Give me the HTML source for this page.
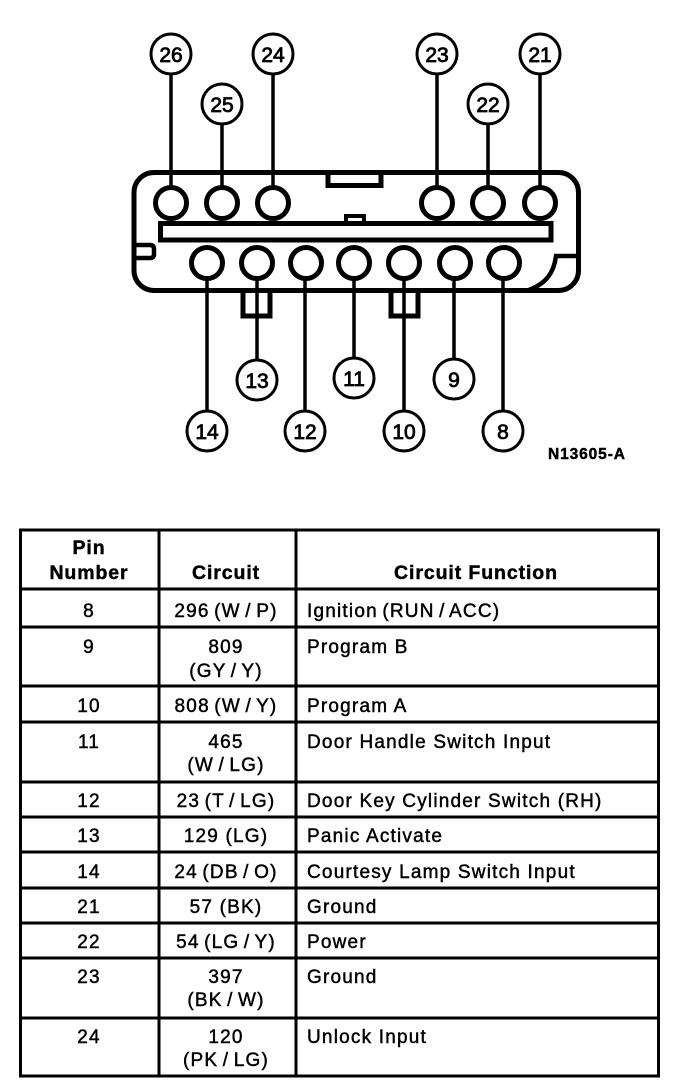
<!DOCTYPE html>
<html><head><meta charset="utf-8"><style>
html,body{margin:0;padding:0;background:#fff}
svg{display:block}
text{font-family:"Liberation Sans",sans-serif;fill:#000;stroke:#000;stroke-width:.45px}
.n{font-size:21px;text-anchor:middle;stroke-width:.8px}
.t{font-size:19px;letter-spacing:1.2px}
.s{word-spacing:-2px}
.c{text-anchor:middle}
.h{font-weight:bold;font-size:19.5px;letter-spacing:.9px}
</style></head><body>
<svg width="688" height="1088" viewBox="0 0 688 1088" xmlns="http://www.w3.org/2000/svg">
<rect width="688" height="1088" fill="#fff"/>
<g fill="none" stroke="#000" stroke-width="5">
<rect x="134" y="172.5" width="444.5" height="118" rx="20"/>
<path d="M328 172V185.5H381V172"/>
<rect x="160.5" y="223.5" width="390.5" height="16.5"/>
<path d="M346 223V216H364V223" stroke-width="4"/>
<path d="M134 245H150Q154 245 154 249V254Q154 258 150 258H134" stroke-width="4.5"/>
<path d="M579 256H556C554 272 547 284 526 291" stroke-width="4.5"/>
<path d="M243 292V316H270V292"/>
<path d="M391 292V316H418V292"/>
<g stroke-width="3.5">
<line x1="171" y1="74" x2="171" y2="187"/><line x1="222" y1="124" x2="222" y2="187"/><line x1="273" y1="74" x2="273" y2="187"/>
<line x1="437" y1="74" x2="437" y2="187"/><line x1="488" y1="124" x2="488" y2="187"/><line x1="540" y1="74" x2="540" y2="187"/>
<line x1="207" y1="279" x2="207" y2="411"/><line x1="257" y1="279" x2="257" y2="360"/><line x1="305" y1="279" x2="305" y2="411"/>
<line x1="354" y1="279" x2="354" y2="358"/><line x1="404" y1="279" x2="404" y2="411"/><line x1="454" y1="279" x2="454" y2="359"/><line x1="503" y1="279" x2="503" y2="411"/>
</g>
<g fill="#fff">
<circle cx="171" cy="203" r="15.5"/><circle cx="222" cy="203" r="15.5"/><circle cx="273" cy="203" r="15.5"/>
<circle cx="437" cy="203" r="15.5"/><circle cx="488" cy="203" r="15.5"/><circle cx="540" cy="203" r="15.5"/>
<circle cx="207" cy="263" r="15.5"/><circle cx="257" cy="263" r="15.5"/><circle cx="306" cy="263" r="15.5"/>
<circle cx="354" cy="263" r="15.5"/><circle cx="404" cy="263" r="15.5"/><circle cx="455" cy="263" r="15.5"/><circle cx="504" cy="263" r="15.5"/>
</g>
<g stroke-width="3" fill="#fff">
<circle cx="171" cy="54" r="20"/><circle cx="222" cy="104" r="20"/><circle cx="273" cy="54" r="20"/>
<circle cx="437" cy="54" r="20"/><circle cx="488" cy="104" r="20"/><circle cx="540" cy="54" r="20"/>
<circle cx="257" cy="380" r="20"/><circle cx="354" cy="378" r="20"/><circle cx="454" cy="379" r="20"/>
<circle cx="207" cy="431" r="20"/><circle cx="305" cy="431" r="20"/><circle cx="404" cy="431" r="20"/><circle cx="503" cy="431" r="20"/>
</g>
</g>
<g class="labels">
<text class="n" x="171" y="62">26</text><text class="n" x="222" y="112">25</text><text class="n" x="273" y="62">24</text>
<text class="n" x="437" y="62">23</text><text class="n" x="488" y="112">22</text><text class="n" x="540" y="62">21</text>
<text class="n" x="257" y="388">13</text><text class="n" x="354" y="386">11</text><text class="n" x="454" y="387">9</text>
<text class="n" x="207" y="439">14</text><text class="n" x="305" y="439">12</text><text class="n" x="404" y="439">10</text><text class="n" x="503" y="439">8</text>
</g>
<text x="548" y="459" style="font-size:15.5px;font-weight:bold;letter-spacing:.9px">N13605-A</text>

<g stroke="#000" fill="none">
<rect x="20.5" y="530" width="638" height="546" stroke-width="3"/>
<path d="M159 530V1076M296 530V1076" stroke-width="3"/>
<path d="M20 589H658M20 627H658M20 686H658M20 722H658M20 782H658M20 817H658M20 852H658M20 888H658M20 923H658M20 958H658M20 1018H658" stroke-width="3"/>
</g>
<text class="h c" x="89" y="554">Pin</text>
<text class="h c" x="89" y="579">Number</text>
<text class="h c" x="226" y="579">Circuit</text>
<text class="h c" x="476" y="579">Circuit Function</text>

<text class="t c" x="89" y="617">8</text><text class="t c s" x="226" y="617">296 (W / P)</text><text class="t s" x="307" y="617">Ignition (RUN / ACC)</text>
<text class="t c" x="89" y="653">9</text><text class="t c" x="226" y="653">809</text><text class="t c s" x="226" y="677">(GY / Y)</text><text class="t" x="307" y="653">Program B</text>
<text class="t c" x="89" y="712">10</text><text class="t c s" x="226" y="712">808 (W / Y)</text><text class="t" x="307" y="712">Program A</text>
<text class="t c" x="89" y="748">11</text><text class="t c" x="226" y="748">465</text><text class="t c s" x="226" y="771">(W / LG)</text><text class="t" x="307" y="748">Door Handle Switch Input</text>
<text class="t c" x="89" y="807">12</text><text class="t c s" x="226" y="807">23 (T / LG)</text><text class="t" x="307" y="807">Door Key Cylinder Switch (RH)</text>
<text class="t c" x="89" y="842">13</text><text class="t c" x="226" y="842">129 (LG)</text><text class="t" x="307" y="842">Panic Activate</text>
<text class="t c" x="89" y="878">14</text><text class="t c s" x="226" y="878">24 (DB / O)</text><text class="t" x="307" y="878">Courtesy Lamp Switch Input</text>
<text class="t c" x="89" y="913">21</text><text class="t c" x="226" y="913">57 (BK)</text><text class="t" x="307" y="913">Ground</text>
<text class="t c" x="89" y="948">22</text><text class="t c s" x="226" y="948">54 (LG / Y)</text><text class="t" x="307" y="948">Power</text>
<text class="t c" x="89" y="983">23</text><text class="t c" x="226" y="983">397</text><text class="t c s" x="226" y="1006">(BK / W)</text><text class="t" x="307" y="983">Ground</text>
<text class="t c" x="89" y="1043">24</text><text class="t c" x="226" y="1043">120</text><text class="t c s" x="226" y="1066">(PK / LG)</text><text class="t" x="307" y="1043">Unlock Input</text>
</svg>
</body></html>
